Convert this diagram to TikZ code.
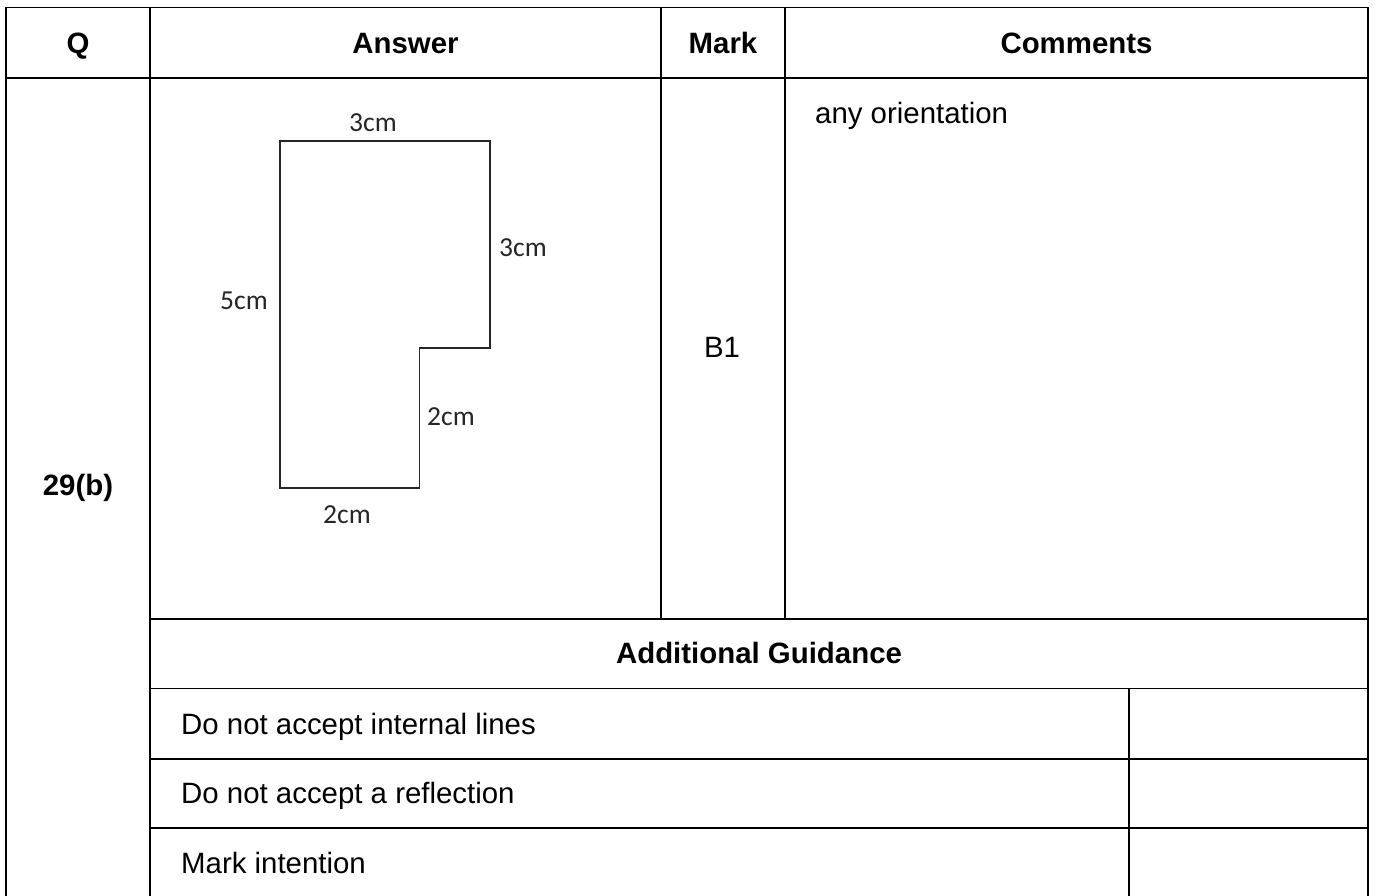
\documentclass[tikz,border=0pt]{standalone}
\usepackage{fontspec}
\setmainfont{Liberation Sans}
\newfontfamily\calfont{Carlito}
\begin{document}
\begin{tikzpicture}[x=1pt,y=-1pt,
  grid/.style={line width=1.8pt,black},
  shapeline/.style={line width=1.6pt,black!85,line join=miter},
  tabtext/.style={inner sep=0pt,font=\fontsize{29.4}{35}\selectfont},
  headtext/.style={tabtext,font=\fontsize{29.4}{35}\selectfont\bfseries},
  dimlabel/.style={inner sep=0pt,text=black!85,font=\calfont\fontsize{27.5}{32}\selectfont}]
\useasboundingbox (0,0) rectangle (1375,895);
\fill[white] (0,0) rectangle (1375,895);
% table grid
\draw[grid] (6,900) -- (6,7.5) -- (1368,7.5) -- (1368,900);
\draw[grid] (150,7.5) -- (150,900);
\draw[grid] (6,78) -- (1368,78);
\draw[grid] (661,7.5) -- (661,619);
\draw[grid] (785,7.5) -- (785,619);
\draw[grid] (150,619) -- (1368,619);
\draw[grid] (150,688.5) -- (1368,688.5);
\draw[grid] (150,759) -- (1368,759);
\draw[grid] (150,828) -- (1368,828);
\draw[grid] (1129,688.5) -- (1129,900);
% header
\node[headtext,anchor=base] (hq) at (78,53) {Q};
\node[headtext,anchor=base] (ha) at (405.5,53) {Answer};
\node[headtext,anchor=base] (hm) at (723,53) {Mark};
\node[headtext,anchor=base] (hc) at (1076.5,53) {Comments};
% body
\node[headtext,anchor=base] (qn) at (78,495) {29(b)};
\node[tabtext,anchor=base] (b1) at (722,357) {B1};
\node[tabtext,anchor=base west] (cm) at (815,123) {any orientation};
\node[headtext,anchor=base] (ag) at (759,663) {Additional Guidance};
\node[tabtext,anchor=base west] (g1) at (181,734) {Do not accept internal lines};
\node[tabtext,anchor=base west] (g2) at (181,803.5) {Do not accept a reflection};
\node[tabtext,anchor=base west] (g3) at (181,873) {Mark intention};
% shape
\draw[shapeline] (280,140.7) -- (490,140.7) -- (490,348) -- (419.3,348) -- (419.3,487.7) -- (280,487.7) -- cycle;
\node[dimlabel] (l1) at (373,123) {3cm};
\node[dimlabel] (l2) at (523,248) {3cm};
\node[dimlabel] (l3) at (244,301) {5cm};
\node[dimlabel] (l4) at (451,417) {2cm};
\node[dimlabel] (l5) at (347,515) {2cm};
\end{tikzpicture}
\end{document}
